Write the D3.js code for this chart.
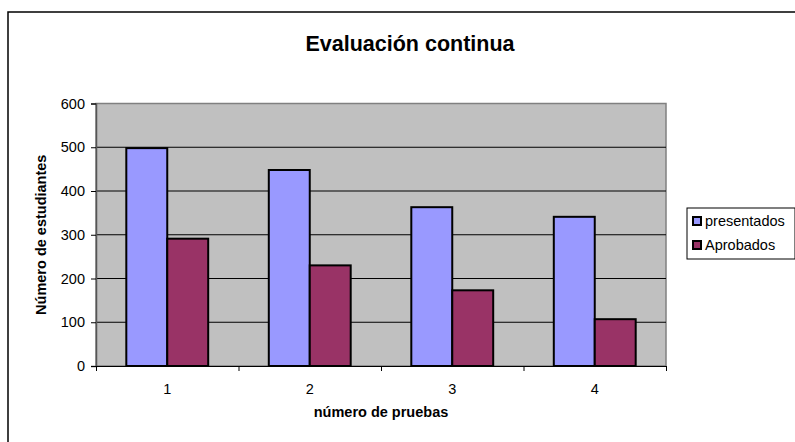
<!DOCTYPE html>
<html>
<head>
<meta charset="utf-8">
<script src="https://cdn.jsdelivr.net/npm/d3@7"></script>
<style>
  body { margin: 0; background: #fff; }
  text { font-family: "Liberation Sans", Arial, sans-serif; }
</style>
</head>
<body>
<svg id="chart"></svg>
<script>
// data
var categories = ["1", "2", "3", "4"];
var seriesNames = ["presentados", "Aprobados"];
var presentados = [498, 448, 363, 341];
var aprobados = [291, 230, 173, 107];
var yTicks = [0, 100, 200, 300, 400, 500, 600];
var colors = ["#9999FF", "#993366"];

var svgWidth = 795, svgHeight = 442;
var plot = { left: 96, top: 103.5, right: 666, bottom: 366 };

var svg = d3.select("#chart")
  .attr("width", svgWidth)
  .attr("height", svgHeight);

// chart border (runs off the right/bottom edge)
svg.append("rect")
  .attr("x", 8).attr("y", 12)
  .attr("width", 900).attr("height", 500)
  .attr("fill", "#fff")
  .attr("stroke", "#000")
  .attr("stroke-width", 1.5);

var xScale = d3.scaleBand()
  .domain(categories)
  .range([plot.left, plot.right]);

var xInner = d3.scaleBand()
  .domain(seriesNames)
  .range([0, xScale.bandwidth()])
  .paddingInner(0)
  .paddingOuter(0.74);

var yScale = d3.scaleLinear()
  .domain([0, 600])
  .range([plot.bottom, plot.top]);

// plot area
svg.append("rect")
  .attr("x", plot.left).attr("y", plot.top)
  .attr("width", plot.right - plot.left)
  .attr("height", plot.bottom - plot.top)
  .attr("fill", "#C0C0C0")
  .attr("stroke", "#808080")
  .attr("stroke-width", 1.5);

// gridlines
svg.append("g")
  .selectAll("line")
  .data(yTicks.filter(function (d) { return d > 0 && d < 600; }))
  .enter()
  .append("line")
  .attr("x1", plot.left).attr("x2", plot.right)
  .attr("y1", function (d) { return yScale(d); })
  .attr("y2", function (d) { return yScale(d); })
  .attr("stroke", "#000")
  .attr("stroke-width", 1);

// bars
var rows = categories.map(function (c, i) {
  return { cat: c, values: [presentados[i], aprobados[i]] };
});

var groups = svg.append("g")
  .selectAll("g")
  .data(rows)
  .enter()
  .append("g")
  .attr("transform", function (d) {
    return "translate(" + xScale(d.cat) + ",0)";
  });

groups.selectAll("rect")
  .data(function (d) {
    return d.values.map(function (v, j) { return { name: seriesNames[j], value: v, j: j }; });
  })
  .enter()
  .append("rect")
  .attr("x", function (d) { return xInner(d.name); })
  .attr("y", function (d) { return yScale(d.value); })
  .attr("width", xInner.bandwidth())
  .attr("height", function (d) { return yScale(0) - yScale(d.value); })
  .attr("fill", function (d) { return colors[d.j]; })
  .attr("stroke", "#000")
  .attr("stroke-width", 2);

// y axis
var y_axis = d3.axisLeft(yScale)
  .tickValues(yTicks)
  .tickSize(5)
  .tickPadding(6);

var yG = svg.append("g")
  .attr("transform", "translate(" + plot.left + ",0)")
  .call(y_axis);
yG.select(".domain").attr("stroke", "#555").attr("stroke-width", 1.5);
yG.selectAll("text").style("font-size", "14.5px").attr("fill", "#000");

// x axis: ticks on category boundaries
var xBounds = d3.scaleLinear()
  .domain([0, categories.length])
  .range([plot.left, plot.right]);

var x_axis = d3.axisBottom(xBounds)
  .tickValues(d3.range(0, categories.length + 1))
  .tickSize(5)
  .tickFormat("");

var xG = svg.append("g")
  .attr("transform", "translate(0," + plot.bottom + ")")
  .call(x_axis);
xG.select(".domain").attr("stroke", "#000").attr("stroke-width", 1);

svg.append("g")
  .selectAll("text")
  .data(categories)
  .enter()
  .append("text")
  .attr("x", function (d) { return xScale(d) + xScale.bandwidth() / 2; })
  .attr("y", plot.bottom + 28)
  .attr("text-anchor", "middle")
  .style("font-size", "14.5px")
  .text(function (d) { return d; });

// titles
svg.append("text")
  .attr("x", 410).attr("y", 51)
  .attr("text-anchor", "middle")
  .style("font-size", "21.5px")
  .style("font-weight", "bold")
  .text("Evaluación continua");

svg.append("text")
  .attr("x", (plot.left + plot.right) / 2).attr("y", 417)
  .attr("text-anchor", "middle")
  .style("font-size", "14.5px")
  .style("font-weight", "bold")
  .text("número de pruebas");

svg.append("text")
  .attr("transform", "translate(46," + ((plot.top + plot.bottom) / 2) + ") rotate(-90)")
  .attr("text-anchor", "middle")
  .style("font-size", "14.5px")
  .style("font-weight", "bold")
  .text("Número de estudiantes");

// legend
var legend = svg.append("g").attr("transform", "translate(687,208)");
legend.append("rect")
  .attr("width", 108).attr("height", 51)
  .attr("fill", "#fff")
  .attr("stroke", "#000")
  .attr("stroke-width", 1);

var items = legend.selectAll("g.item")
  .data(seriesNames)
  .enter()
  .append("g")
  .attr("class", "item")
  .attr("transform", function (d, i) { return "translate(6," + (9 + i * 24) + ")"; });

items.append("rect")
  .attr("width", 8).attr("height", 8)
  .attr("fill", function (d, i) { return colors[i]; })
  .attr("stroke", "#000")
  .attr("stroke-width", 2);

items.append("text")
  .attr("x", 12).attr("y", 9)
  .style("font-size", "14.5px")
  .text(function (d) { return d; });
</script>
</body>
</html>
